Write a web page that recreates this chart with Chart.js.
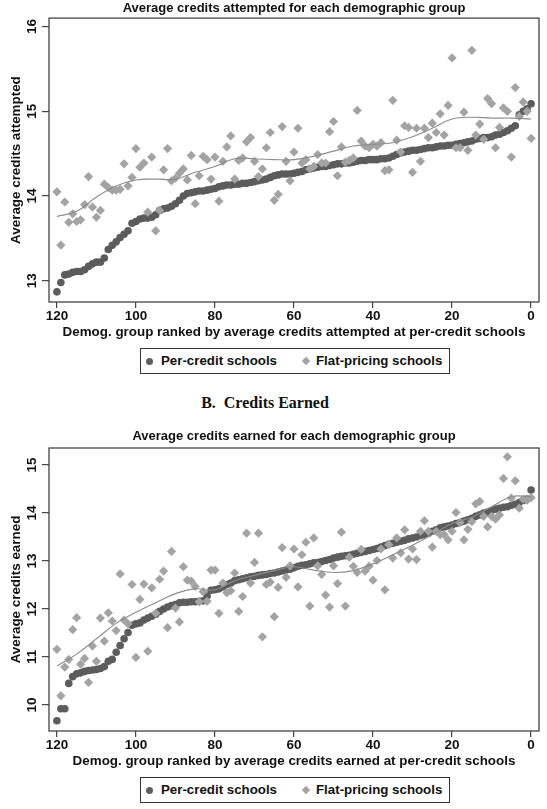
<!DOCTYPE html>
<html>
<head>
<meta charset="utf-8">
<script src="https://cdn.jsdelivr.net/npm/chart.js@4.4.1/dist/chart.umd.min.js"></script>
<style>
    body { margin: 0; background: #fff; width: 547px; height: 809px; position: relative; overflow: hidden; font-family: "Liberation Sans", Arial, sans-serif; }
    .panel { position: absolute; left: 0; width: 547px; }
    .legend { position: absolute; left: 140px; width: 310px; height: 26px; border: 1px solid #333; box-sizing: border-box; font-weight: bold; font-size: 13.3px; color: #111; }
    .legend span { position: absolute; top: 4px; }
    .legend .dot { top: 8.5px; width: 7px; height: 7px; border-radius: 50%; background: #5e5e5e; }
    .legend .dia { top: 9px; width: 6px; height: 6px; background: #a3a3a3; transform: rotate(45deg); }
    .heading { position: absolute; top: 394px; left: 0; width: 530px; text-align: center; font-family: "Liberation Serif", serif; font-weight: bold; font-size: 16px; color: #111; }
</style>
</head>
<body>

<div class="panel" style="top:0"><canvas id="chart-attempted" width="547" height="342"></canvas></div>
<div class="legend" style="top:348px">
    <span class="dot" style="left:5px"></span><span style="left:20px">Per-credit schools</span>
    <span class="dia" style="left:162px"></span><span style="left:175px">Flat-pricing schools</span>
</div>

<div class="heading">B.&nbsp; Credits Earned</div>

<div class="panel" style="top:425px"><canvas id="chart-earned" width="547" height="346"></canvas></div>
<div class="legend" style="top:777px">
    <span class="dot" style="left:5px"></span><span style="left:20px">Per-credit schools</span>
    <span class="dia" style="left:162px"></span><span style="left:175px">Flat-pricing schools</span>
</div>

<script>
// demographic group rank (120 = lowest at per-credit schools)
const ranks = [120, 119, 118, 117, 116, 115, 114, 113, 112, 111, 110, 109, 108, 107, 106, 105, 104, 103, 102, 101,
    100, 99, 98, 97, 96, 95, 94, 93, 92, 91, 90, 89, 88, 87, 86, 85, 84, 83, 82, 81,
    80, 79, 78, 77, 76, 75, 74, 73, 72, 71, 70, 69, 68, 67, 66, 65, 64, 63, 62, 61,
    60, 59, 58, 57, 56, 55, 54, 53, 52, 51, 50, 49, 48, 47, 46, 45, 44, 43, 42, 41,
    40, 39, 38, 37, 36, 35, 34, 33, 32, 31, 30, 29, 28, 27, 26, 25, 24, 23, 22, 21,
    20, 19, 18, 17, 16, 15, 14, 13, 12, 11, 10, 9, 8, 7, 6, 5, 4, 3, 2, 1, 0];

const attemptedPerCredit = [12.87, 12.98, 13.07, 13.08, 13.10, 13.11, 13.11, 13.13, 13.17, 13.20, 13.22, 13.22, 13.27, 13.37, 13.42, 13.46, 13.51, 13.55, 13.59, 13.68,
    13.70, 13.73, 13.74, 13.74, 13.75, 13.78, 13.83, 13.85, 13.86, 13.88,
    13.91, 13.95, 14.00, 14.03, 14.04, 14.05, 14.06, 14.06, 14.07, 14.08,
    14.09, 14.11, 14.12, 14.13, 14.13, 14.14, 14.14, 14.15, 14.15, 14.16,
    14.17, 14.18, 14.19, 14.20, 14.22, 14.24, 14.25, 14.26, 14.26, 14.26,
    14.27, 14.28, 14.29, 14.31, 14.32, 14.33, 14.34, 14.35, 14.35, 14.36,
    14.37, 14.38, 14.38, 14.39, 14.39, 14.40, 14.41, 14.42, 14.42, 14.43,
    14.43, 14.43, 14.44, 14.44, 14.45, 14.47, 14.49, 14.51, 14.52, 14.53,
    14.54, 14.54, 14.55, 14.56, 14.57, 14.57, 14.58, 14.59, 14.59, 14.60,
    14.60, 14.61, 14.62, 14.63, 14.64, 14.65, 14.67, 14.68, 14.69, 14.69,
    14.70, 14.72, 14.73, 14.75, 14.77, 14.80, 14.83, 14.96, 15.00, 15.03,
    15.09];

const attemptedFlat = [14.05, 13.42, 13.93, 13.69, 13.79, 13.70, 13.72, 13.90, 14.23, 13.87, 13.75, 13.83, 14.14, 14.10, 14.07, 14.07, 14.08, 14.38, 14.12, 14.22,
    14.56, 14.34, 14.39, 13.81, 14.46, 13.59, 13.83, 14.31, 14.56, 14.18,
    14.21, 14.27, 14.32, 14.19, 14.48, 13.91, 14.24, 14.47, 14.43, 14.20,
    14.46, 13.94, 14.41, 14.58, 14.71, 14.20, 14.42, 14.45, 14.64, 14.69,
    14.41, 14.23, 14.32, 14.57, 14.75, 13.95, 14.02, 14.82, 14.41, 14.18,
    14.52, 14.80, 14.39, 14.43, 14.32, 14.35, 14.49, 14.39, 14.39, 14.76,
    14.88, 14.24, 14.58, 14.40, 14.42, 14.45, 15.01, 14.65, 14.59, 14.57,
    14.61, 14.59, 14.63, 14.30, 14.31, 15.13, 14.66, 14.52, 14.83, 14.81,
    14.28, 14.80, 14.41, 14.80, 14.69, 14.86, 14.75, 14.97, 14.72, 15.07,
    15.63, 14.57, 14.57, 14.99, 14.54, 15.72, 14.72, 14.85, 14.67, 15.15,
    15.09, 14.57, 14.81, 15.04, 15.00, 14.46, 15.28, 14.94, 15.11, 15.00,
    14.68];

const earnedPerCredit = [9.67, 9.92, 9.92, 10.45, 10.59, 10.65, 10.67, 10.70, 10.72, 10.73, 10.74, 10.76, 10.80, 10.91, 10.95, 11.10, 11.24, 11.38, 11.51, 11.66,
    11.69, 11.71, 11.77, 11.81, 11.85, 11.89, 11.95, 12.00, 12.04, 12.07,
    12.09, 12.13, 12.14, 12.14, 12.15, 12.15, 12.16, 12.17, 12.27, 12.39,
    12.40, 12.42, 12.46, 12.51, 12.54, 12.59, 12.61, 12.63, 12.65, 12.67,
    12.68, 12.70, 12.71, 12.72, 12.74, 12.75, 12.77, 12.79, 12.81, 12.83,
    12.86, 12.89, 12.91, 12.92, 12.94, 12.96, 12.97, 12.99, 13.01, 13.03,
    13.06, 13.08, 13.10, 13.11, 13.12, 13.14, 13.16, 13.18, 13.20, 13.22,
    13.24, 13.26, 13.29, 13.32, 13.35, 13.37, 13.39, 13.41, 13.43, 13.46,
    13.48, 13.50, 13.53, 13.55, 13.58, 13.62, 13.65, 13.69, 13.71, 13.73,
    13.75, 13.78, 13.80, 13.83, 13.86, 13.89, 13.93, 13.96, 14.00, 14.02,
    14.05, 14.08, 14.10, 14.12, 14.13, 14.16, 14.18, 14.22, 14.26, 14.29,
    14.48];

const earnedFlat = [11.16, 10.19, 10.79, 10.95, 11.57, 11.82, 10.85, 10.97, 10.47, 11.23, 10.91, 11.81, 11.33, 11.92, 11.75, 11.55, 12.73, 11.77, 11.69, 12.51,
    10.99, 12.20, 12.52, 11.12, 12.44, 11.91, 12.62, 12.79, 11.61, 13.20,
    12.02, 11.73, 12.88, 12.60, 12.58, 12.47, 12.15, 12.36, 12.16, 12.81,
    12.81, 11.91, 12.54, 12.34, 12.38, 12.75, 11.95, 12.26, 13.58, 12.54,
    12.97, 13.58, 11.42, 12.51, 12.56, 11.84, 12.45, 13.28, 12.66, 12.90,
    13.25, 12.46, 13.13, 13.39, 12.06, 13.48, 12.90, 12.72, 12.29, 12.04,
    12.90, 12.53, 13.60, 12.06, 13.08, 12.89, 12.76, 13.24, 12.79, 12.89,
    12.60, 13.01, 13.25, 12.40, 13.34, 13.06, 13.48, 13.17, 13.65, 13.04,
    13.25, 13.03, 13.62, 13.84, 13.62, 13.29, 13.62, 13.55, 13.55, 13.44,
    13.62, 14.01, 13.80, 13.44, 13.66, 13.82, 14.19, 14.24, 13.93, 13.71,
    13.93, 13.87, 13.96, 14.72, 15.17, 14.31, 14.67, 14.10, 14.29, 14.27,
    14.32];

// smoothed (lowess) line for flat-pricing schools
const smoothRanks = [120, 115, 110, 105, 100, 95, 90, 85, 80, 75, 70, 65, 60, 55, 50, 45, 40, 35, 30, 25, 20, 15, 10, 5, 0];
const attemptedSmooth = [13.76, 13.82, 13.99, 14.12, 14.19, 14.20, 14.20, 14.28, 14.35, 14.44, 14.44, 14.43, 14.43, 14.47, 14.53, 14.59, 14.61, 14.63, 14.70, 14.80, 14.91, 14.93, 14.92, 14.92, 14.91];
const earnedSmooth = [10.81, 11.06, 11.38, 11.70, 11.93, 12.13, 12.32, 12.42, 12.40, 12.59, 12.70, 12.80, 12.88, 12.81, 12.76, 12.80, 12.94, 13.13, 13.33, 13.55, 13.78, 13.91, 14.13, 14.34, 14.34];

const xTicks = [120, 100, 80, 60, 40, 20, 0];
const attemptedTicks = [13, 14, 15, 16];
const earnedTicks = [10, 11, 12, 13, 14, 15];

const INK = '#111';
const AXIS = '#444';
const FONT = '"Liberation Sans", Arial, sans-serif';

const toPoints = (xs, ys) => xs.map((x, i) => ({ x: x, y: ys[i] }));

// frame around plot + rotated y labels (Stata style)
const framePlugin = {
    id: 'frame',
    afterDraw(chart) {
        const { ctx, chartArea } = chart;
        ctx.save();
        ctx.strokeStyle = AXIS;
        ctx.lineWidth = 1.3;
        ctx.strokeRect(chartArea.left, chartArea.top, chartArea.right - chartArea.left, chartArea.bottom - chartArea.top);

        const y = chart.scales.y;
        ctx.fillStyle = INK;
        ctx.font = 'bold 13.5px ' + FONT;
        ctx.textAlign = 'center';
        ctx.textBaseline = 'middle';
        y.ticks.forEach(t => {
            ctx.save();
            ctx.translate(32, y.getPixelForValue(t.value));
            ctx.rotate(-Math.PI / 2);
            ctx.fillText(String(t.value), 0, 0);
            ctx.restore();
        });
        ctx.restore();
    }
};

function makeChart(id, cfg) {
    const ctx = document.getElementById(id).getContext('2d');
    return new Chart(ctx, {
        type: 'scatter',
        data: {
            datasets: [
                {
                    label: 'smooth',
                    type: 'line',
                    data: toPoints(smoothRanks, cfg.smooth),
                    borderColor: '#8c8c8c',
                    borderWidth: 1.1,
                    pointRadius: 0,
                    tension: 0.4,
                    fill: false,
                    order: 0
                },
                {
                    label: 'Flat-pricing schools',
                    data: toPoints(ranks, cfg.flat),
                    pointStyle: 'rectRot',
                    pointRadius: 4.6,
                    backgroundColor: '#a3a3a3',
                    borderWidth: 0,
                    order: 1
                },
                {
                    label: 'Per-credit schools',
                    data: toPoints(ranks, cfg.perCredit),
                    pointStyle: 'circle',
                    pointRadius: 3.8,
                    backgroundColor: '#5c5c5c',
                    borderWidth: 0,
                    order: 2
                }
            ]
        },
        options: {
            responsive: false,
            animation: false,
            layout: { padding: { left: 0, right: 8, top: 0, bottom: 0 } },
            plugins: {
                legend: { display: false },
                tooltip: { enabled: false },
                title: {
                    display: true,
                    text: cfg.title,
                    fullSize: false,
                    color: INK,
                    font: { family: FONT, size: 13, weight: 'bold' },
                    padding: cfg.titlePad
                }
            },
            scales: {
                x: {
                    type: 'linear',
                    reverse: true,
                    min: -2,
                    max: 122,
                    afterBuildTicks: s => { s.ticks = xTicks.map(v => ({ value: v })); },
                    afterFit: s => { s.height = 40; },
                    border: { display: false },
                    grid: { drawOnChartArea: false, drawTicks: true, tickLength: 6, color: AXIS, lineWidth: 1.2 },
                    ticks: { color: INK, padding: 0, maxRotation: 0, font: { family: FONT, size: 13.5, weight: 'bold' } },
                    title: {
                        display: true,
                        text: cfg.xTitle,
                        color: INK,
                        padding: { top: 0, bottom: 2 },
                        font: { family: FONT, size: 13.4, weight: 'bold' }
                    }
                },
                y: {
                    type: 'linear',
                    min: cfg.yMin,
                    max: cfg.yMax,
                    afterBuildTicks: s => { s.ticks = cfg.yTicks.map(v => ({ value: v })); },
                    afterFit: s => { s.width = 49; },
                    border: { display: false },
                    grid: { drawOnChartArea: false, drawTicks: true, tickLength: 7, color: AXIS, lineWidth: 1.2 },
                    ticks: { display: false },
                    title: {
                        display: true,
                        text: cfg.yTitle,
                        color: INK,
                        padding: { top: 8, bottom: 0 },
                        font: { family: FONT, size: 13.4, weight: 'bold' }
                    }
                }
            }
        },
        plugins: [framePlugin]
    });
}

makeChart('chart-attempted', {
    title: 'Average credits attempted for each demographic group',
    titlePad: { top: 0.5, bottom: 2 },
    xTitle: 'Demog. group ranked by average credits attempted at per-credit schools',
    yTitle: 'Average credits attempted',
    yMin: 12.75, yMax: 16.1,
    yTicks: attemptedTicks,
    perCredit: attemptedPerCredit,
    flat: attemptedFlat,
    smooth: attemptedSmooth
});

makeChart('chart-earned', {
    title: 'Average credits earned for each demographic group',
    titlePad: { top: 4, bottom: 3.4 },
    xTitle: 'Demog. group ranked by average credits earned at per-credit schools',
    yTitle: 'Average credits earned',
    yMin: 9.458, yMax: 15.354,
    yTicks: earnedTicks,
    perCredit: earnedPerCredit,
    flat: earnedFlat,
    smooth: earnedSmooth
});
</script>
</body>
</html>
